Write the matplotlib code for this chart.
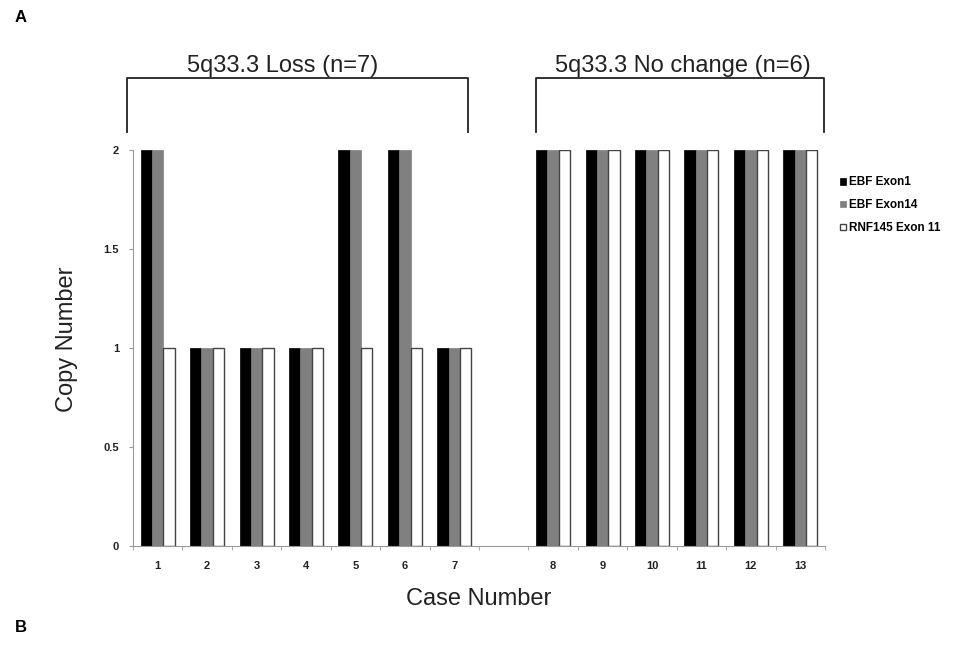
import numpy as np
import matplotlib
matplotlib.use('Agg')
import matplotlib.pyplot as plt
from matplotlib.transforms import blended_transform_factory

plt.rcParams['font.family'] = ['Liberation Sans', 'DejaVu Sans']

# copy number per case
cases = np.arange(1, 14)
ebf_exon1 = [2, 1, 1, 1, 2, 2, 1, 2, 2, 2, 2, 2, 2]
ebf_exon14 = [2, 1, 1, 1, 2, 2, 1, 2, 2, 2, 2, 2, 2]
rnf145_exon11 = [1, 1, 1, 1, 1, 1, 1, 2, 2, 2, 2, 2, 2]
series_names = ['EBF Exon1', 'EBF Exon14', 'RNF145 Exon 11']
group_titles = ['5q33.3 Loss (n=7)', '5q33.3 No change (n=6)']

fig = plt.figure(figsize=(9.65, 6.45), dpi=100)
ax = fig.add_axes([133/965, 1-546/645, 692/965, 396/645])

# one empty slot between case 7 and case 8
pos = np.arange(13) + (cases > 7)
w = 0.23
ax.bar(pos - w, ebf_exon1, w, color='black', edgecolor='black', linewidth=0.5, label=series_names[0])
ax.bar(pos, ebf_exon14, w, color='#808080', edgecolor='#808080', linewidth=0.5, label=series_names[1])
ax.bar(pos + w, rnf145_exon11, w, color='white', edgecolor='#444444', linewidth=1.0, label=series_names[2])

ax.set_xlim(-0.5, 13.5)
ax.set_ylim(0, 2)
ax.set_xticks(pos)
ax.set_xticklabels([str(c) for c in cases], fontsize=8, fontweight='bold', color='#222222')
ax.set_xticks(np.arange(-0.5, 14, 1), minor=True)
ax.tick_params(axis='x', which='major', length=0, pad=11)
ax.tick_params(axis='x', which='minor', length=3, color='#999999', direction='out')
ax.set_yticks([0, 0.5, 1, 1.5, 2])
ax.set_yticklabels(['0', '0.5', '1', '1.5', '2'], fontsize=8, fontweight='bold', color='#222222')
ax.tick_params(axis='y', length=3, color='#999999', pad=7)

for s in ['top', 'right']:
    ax.spines[s].set_visible(False)
for s in ['left', 'bottom']:
    ax.spines[s].set_color('#999999')
    ax.spines[s].set_linewidth(0.8)

ax.set_ylabel('Copy Number', fontsize=17, color='#222222')
ax.yaxis.set_label_coords(-0.08, 0.523)
ax.set_xlabel('Case Number', fontsize=17, labelpad=12, color='#222222')

# brackets above the two groups
tr = blended_transform_factory(ax.transData, fig.transFigure)
y_top = 1 - 78/645
y_bot = 1 - 132/645
spans = [(-0.62, 6.27), (7.65, 13.47)]
title_x = [2.53, 10.62]
for (x0, x1), tx, title in zip(spans, title_x, group_titles):
    ax.plot([x0, x0, x1, x1], [y_bot, y_top, y_top, y_bot], color='#222222',
            linewidth=1.3, transform=tr, clip_on=False)
    ax.text(tx, y_top + 0.001, title, transform=tr, ha='center', va='bottom',
            fontsize=17, color='#222222')

ax.legend(loc='upper left', bbox_to_anchor=(1.007, 0.96), frameon=False,
          prop={'weight': 'bold', 'size': 8.5}, handlelength=0.5, handleheight=0.5,
          handletextpad=0.2, labelspacing=0.92, borderaxespad=0.5)

fig.text(15/965, 1-18/645, 'A', fontsize=12, fontweight='bold', va='center')
fig.text(15/965, 1-628/645, 'B', fontsize=12, fontweight='bold', va='center')

fig.savefig('out.png', dpi=100)
